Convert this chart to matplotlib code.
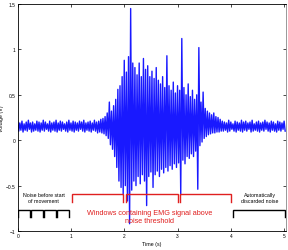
import numpy as np
import matplotlib
matplotlib.use("Agg")
import matplotlib.pyplot as plt

plt.rcParams['font.family'] = ['Liberation Sans', 'DejaVu Sans']

# ---- data ----
dt = 0.04  # spacing between successive upper peaks (s)
# upper peaks of the EMG trace, starting at t = 0 s
sig_hi = [
    0.20, 0.19, 0.21, 0.18, 0.20, 0.22, 0.19, 0.20, 0.18, 0.21,
    0.20, 0.19, 0.22, 0.20, 0.18, 0.21, 0.19, 0.20, 0.22, 0.19,
    0.21, 0.20, 0.18, 0.20, 0.22, 0.19, 0.21, 0.20, 0.19, 0.21,
    0.20, 0.22, 0.19, 0.20, 0.21, 0.19, 0.22, 0.20, 0.21, 0.23, 0.24,
    0.26, 0.30, 0.42, 0.32, 0.38, 0.45, 0.56, 0.60, 0.70, 0.88,
    0.75, 0.92, 1.45, 0.85, 0.80, 0.72, 0.85, 0.70, 0.90, 0.78,
    0.82, 0.70, 0.76, 0.68, 0.80, 0.66, 0.62, 0.70, 0.58, 0.93,
    0.60, 0.55, 0.64, 0.52, 0.60, 0.55, 1.12, 0.58, 0.50, 0.62,
    0.48, 0.55, 0.45, 0.50, 1.02, 0.42, 0.53, 0.35, 0.32, 0.30,
    0.28, 0.30, 0.26, 0.25, 0.23,
    0.21, 0.20, 0.19, 0.22, 0.20, 0.18, 0.21, 0.20, 0.19, 0.22,
    0.20, 0.21, 0.19, 0.20, 0.22, 0.18, 0.20, 0.21, 0.19, 0.20,
    0.22, 0.20, 0.19, 0.21, 0.20, 0.18, 0.21, 0.20, 0.19, 0.21,
]
# lower troughs, each half a step after the matching upper peak
sig_lo = [
    0.10, 0.11, 0.09, 0.11, 0.10, 0.12, 0.09, 0.10, 0.11, 0.10,
    0.09, 0.11, 0.10, 0.12, 0.10, 0.09, 0.11, 0.10, 0.09, 0.11,
    0.10, 0.12, 0.10, 0.09, 0.11, 0.10, 0.09, 0.11, 0.10, 0.12,
    0.10, 0.09, 0.11, 0.10, 0.09, 0.11, 0.10, 0.08, 0.09, 0.08, 0.07,
    0.05, 0.02, -0.05, -0.10, -0.18, -0.30, -0.45, -0.52, -0.60, -0.50,
    -0.67, -0.92, -0.55, -0.45, -0.50, -0.40, -0.48, -0.38, -0.45, -0.72,
    -0.40, -0.35, -0.52, -0.38, -0.34, -0.40, -0.32, -0.36, -0.30, -0.34,
    -0.28, -0.32, -0.26, -0.30, -0.25, -0.60, -0.22, -0.26, -0.18, -0.20,
    -0.15, -0.18, -0.12, -0.54, -0.06, -0.02, 0.02, 0.04, 0.06, 0.07,
    0.08, 0.08, 0.09, 0.09, 0.10,
    0.10, 0.11, 0.09, 0.10, 0.12, 0.10, 0.09, 0.11, 0.10, 0.09,
    0.11, 0.10, 0.12, 0.09, 0.10, 0.11, 0.10, 0.09, 0.11, 0.10,
    0.12, 0.10, 0.09, 0.11, 0.10, 0.09, 0.11, 0.10, 0.12, 0.10,
]

noise_windows = [(0.0, 0.24), (0.255, 0.48), (0.495, 0.715), (0.73, 0.955)]
emg_windows = [(1.02, 1.98), (2.03, 3.00), (3.05, 4.00)]
discard_windows = [(4.05, 5.02)]

x_ticks = [0, 1, 2, 3, 4, 5]
x_ticklabels = ['0', '1', '2', '3', '4', '5']
y_ticks = [-1, -0.5, 0, 0.5, 1, 1.5]
y_ticklabels = ['\u22121', '\u22120.5', '0', '0.5', '1', '1.5']

# ---- figure ----
fig = plt.figure(figsize=(2.88, 2.51), dpi=100)
ax = fig.add_axes([17.7 / 288, 19 / 251, 268 / 288, 227 / 251])

n = len(sig_hi)
t = np.empty(2 * n)
v = np.empty(2 * n)
t[0::2] = np.arange(n) * dt
t[1::2] = np.arange(n) * dt + dt / 2
v[0::2] = sig_hi
v[1::2] = sig_lo
ax.plot(t, v, color='#0000ff', lw=1.0, alpha=0.9)


def bracket(x0, x1, ytop, ybot, color):
    ax.plot([x0, x0, x1, x1], [ybot, ytop, ytop, ybot], color=color, lw=1.0,
            solid_joinstyle='miter')


for a, b in noise_windows:
    bracket(a, b, -0.765, -0.85, 'black')
for a, b in emg_windows:
    bracket(a, b, -0.59, -0.68, '#e02020')
for a, b in discard_windows:
    bracket(a, b, -0.765, -0.85, 'black')

ax.text(0.49, -0.635, 'Noise before start\nof movement', ha='center', va='center',
        fontsize=3.8, linespacing=1.3)
ax.text(2.48, -0.84, 'Windows containing EMG signal above\nnoise threshold',
        ha='center', va='center', fontsize=5.2, color='#e02020', linespacing=1.1)
ax.text(4.54, -0.635, 'Automatically\ndiscarded noise', ha='center', va='center',
        fontsize=3.8, linespacing=1.3)

ax.set_xlim(0, 5.03)
ax.set_ylim(-1, 1.5)
ax.set_xticks(x_ticks)
ax.set_xticklabels(x_ticklabels)
ax.set_yticks(y_ticks)
ax.set_yticklabels(y_ticklabels)
ax.tick_params(direction='in', length=2, width=0.5, labelsize=3.5, pad=1.5,
               top=True, right=True)
for s in ax.spines.values():
    s.set_linewidth(0.6)
ax.spines['right'].set_color('#888888')

ax.set_xlabel('Time (s)', fontsize=3.8, labelpad=2)
ax.set_ylabel('Voltage (V)', fontsize=3.8, labelpad=1)

fig.savefig('out.png', dpi=100)
